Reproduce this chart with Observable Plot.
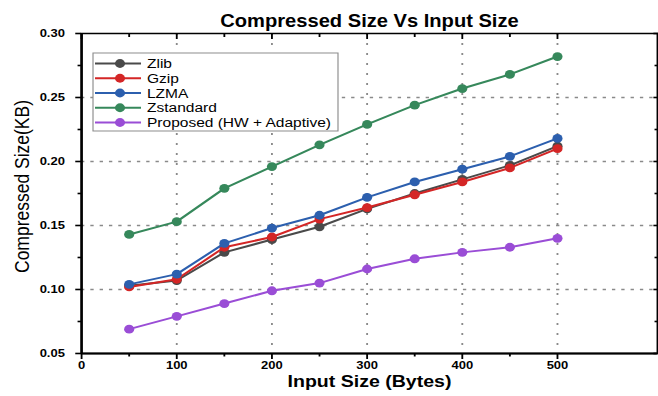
<!DOCTYPE html>
<html><head><meta charset="utf-8">
<script src="https://cdn.jsdelivr.net/npm/d3@7"></script>
<script src="https://cdn.jsdelivr.net/npm/@observablehq/plot@0.6"></script>
<style>
html,body{margin:0;padding:0;background:#fff;}
#wrap{width:658px;height:396px;overflow:hidden;position:relative;background:#fff;}
#wrap svg{transform:scaleX(1.15);transform-origin:0 0;display:block;}
</style></head><body><div id="wrap"></div>
<script>
// ---- data ----
const titleText = "Compressed Size Vs Input Size";
const xLabel = "Input Size (Bytes)";
const yLabel = "Compressed Size(KB)";
const inputSizes = [50, 100, 150, 200, 250, 300, 350, 400, 450, 500];
const zlib      = [0.103, 0.107, 0.129, 0.139, 0.149, 0.163, 0.175, 0.186, 0.197, 0.212];
const gzip      = [0.102, 0.108, 0.133, 0.141, 0.155, 0.164, 0.174, 0.184, 0.195, 0.210];
const lzma      = [0.104, 0.112, 0.136, 0.148, 0.158, 0.172, 0.184, 0.194, 0.204, 0.218];
const zstandard = [0.143, 0.153, 0.179, 0.196, 0.213, 0.229, 0.244, 0.257, 0.268, 0.282];
const proposed  = [0.069, 0.079, 0.089, 0.099, 0.105, 0.116, 0.124, 0.129, 0.133, 0.140];
const seriesNames  = ["Zlib", "Gzip", "LZMA", "Zstandard", "Proposed (HW + Adaptive)"];
const seriesValues = [zlib, gzip, lzma, zstandard, proposed];
const seriesColors = ["#4a4a4a", "#d42626", "#2c5fae", "#36885b", "#9a4dd6"];
const xTicks = [0, 100, 200, 300, 400, 500];
const xMinorTicks = [50, 150, 250, 350, 450];
const xGrid = [100, 200, 300, 400, 500];
const yTicks = [0.05, 0.10, 0.15, 0.20, 0.25, 0.30];
const yMinorTicks = [0.075, 0.125, 0.175, 0.225, 0.275];
const yGrid = [0.10, 0.15, 0.20, 0.25];

// ---- build ----
const S = 1.15;           // horizontal stretch of the reference picture
const W = 658 / S;
const rows = [];
seriesNames.forEach((name, i) => inputSizes.forEach((x, j) => rows.push({series: name, x, y: seriesValues[i][j]})));

const seriesMarks = [];
seriesNames.forEach(name => {
  const d = rows.filter(r => r.series === name);
  seriesMarks.push(Plot.line(d, {x: "x", y: "y", stroke: "series", strokeWidth: 2}));
  seriesMarks.push(Plot.dot(d, {x: "x", y: "y", fill: "series", r: 4.4}));
});

const font = "'Liberation Sans', Arial, sans-serif";
const chart = Plot.plot({
  width: W, height: 396,
  marginLeft: 81 / S, marginRight: 1, marginTop: 33, marginBottom: 43,
  style: {fontFamily: font, background: "white", overflow: "visible", color: "black"},
  x: {domain: [0, 605]},
  y: {domain: [0.05, 0.30]},
  color: {domain: seriesNames, range: seriesColors},
  marks: [
    Plot.ruleX(xGrid, {stroke: "#8a8a8a", strokeWidth: 1.6, strokeDasharray: "2,8"}),
    Plot.ruleY(yGrid, {stroke: "#8a8a8a", strokeWidth: 1.5, strokeDasharray: "2.9,5.2"}),
    Plot.frame({stroke: "black", strokeWidth: 1.5}),
    Plot.ruleX([0], {stroke: "black", strokeWidth: 2.2}),
    Plot.ruleY([0.05], {stroke: "black", strokeWidth: 2}),
    Plot.axisX(xTicks, {tickSize: 6, tickPadding: 1.5, fontSize: 11.3, fontWeight: "bold", label: null, strokeWidth: 1.6}),
    Plot.axisX(xMinorTicks, {tickSize: 3.5, tickFormat: () => "", label: null, strokeWidth: 1.6}),
    Plot.axisX(xTicks, {anchor: "top", tickSize: 5, dy: 5, tickFormat: () => "", label: null, strokeWidth: 1.6}),
    Plot.axisX(xMinorTicks, {anchor: "top", tickSize: 3, dy: 3, tickFormat: () => "", label: null, strokeWidth: 1.6}),
    Plot.axisY(yTicks, {tickSize: 5, tickPadding: 9.5, fontSize: 11.3, fontWeight: "bold", tickFormat: d => d.toFixed(2), label: null, strokeWidth: 1.6}),
    Plot.axisY(yMinorTicks, {tickSize: 3, tickFormat: () => "", label: null, strokeWidth: 1.6}),
    Plot.axisY(yTicks, {anchor: "right", tickSize: 4, dx: -4, tickFormat: () => "", label: null, strokeWidth: 1.6}),
    Plot.axisY(yMinorTicks, {anchor: "right", tickSize: 3, dx: -3, tickFormat: () => "", label: null, strokeWidth: 1.6}),
    ...seriesMarks,
    Plot.text([titleText], {frameAnchor: "top", dy: -19, fontSize: 17.5, fontWeight: "bold"}),
    Plot.text([xLabel], {frameAnchor: "bottom", dy: 34, fontSize: 17, fontWeight: "bold"}),
    Plot.text([yLabel], {frameAnchor: "left", textAnchor: "middle", dx: -(81 - 22) / S, dy: -7, rotate: -90, fontSize: 17.5})
  ]
});

// ---- legend ----
const lg = d3.select(chart).append("g").attr("font-family", font).attr("font-size", 13.5).attr("text-anchor", "start");
lg.append("rect").attr("x", 93 / S).attr("y", 53).attr("width", (338 - 93) / S).attr("height", 78)
  .attr("fill", "white").attr("stroke", "#8c8c8c").attr("stroke-width", 1);
seriesNames.forEach((name, i) => {
  const y = 63.5 + i * 14.75;
  lg.append("line").attr("x1", 95 / S).attr("x2", 141 / S).attr("y1", y).attr("y2", y)
    .attr("stroke", seriesColors[i]).attr("stroke-width", 2);
  lg.append("circle").attr("cx", 120 / S).attr("cy", y).attr("r", 4.4).attr("fill", seriesColors[i]);
  lg.append("text").attr("x", 147 / S).attr("y", y).attr("dy", "0.35em").attr("fill", "black").text(name);
});

document.getElementById("wrap").appendChild(chart);
</script>
</body></html>
